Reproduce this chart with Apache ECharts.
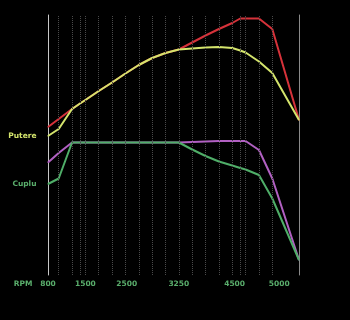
<!DOCTYPE html>
<html>
<head>
<meta charset="utf-8">
<script src="https://cdn.jsdelivr.net/npm/echarts@6/dist/echarts.min.js"></script>
<style>
  html, body { margin: 0; padding: 0; background: #000; }
  #chart { width: 350px; height: 320px; }
</style>
</head>
<body>
<div id="chart"></div>
<script>
// turatii (RPM) - fiecare punct are o linie verticala
const rpm = [800, 1000, 1250, 1400, 1500, 1750, 2000, 2250, 2500, 2750, 3000,
             3250, 3500, 3750, 4000, 4250, 4400, 4500, 4750, 5000, 5500];
const rpmLabels = [800, 1500, 2500, 3250, 4500, 5000];

// putere: stock (galben) si dupa tuning (rosu)
const putereStock = [139, 146, 166, 171.5, 175, 184, 192.5, 201.5, 210, 217, 222,
                     225.5, 226.5, 227.5, 228, 227, 224.5, 222.5, 213.5, 202, 155];
const putereTuning = [148, 156, 166, 171.5, 175, 184, 192.5, 201.5, 210, 217, 222,
                      225.5, 232.5, 239.5, 246, 252, 256.5, 256.5, 256.5, 246, 155];

// cuplu: stock (verde) si dupa tuning (mov)
const cupluStock = [91, 96.5, 132.5, 132.5, 132.5, 132.5, 132.5, 132.5, 132.5, 132.5, 132.5,
                    132.5, 125.5, 119, 113.5, 109.5, 107, 105.5, 100, 76.5, 15];
const cupluTuning = [112.5, 122, 132.5, 132.5, 132.5, 132.5, 132.5, 132.5, 132.5, 132.5, 132.5,
                     132.5, 133, 133.5, 134, 134, 134, 134, 125, 96.5, 15];

const verde = '#5aae6c';
const font = 'DejaVu Sans';

// etichetele de pe axa nu stau exact pe turatie in original
const labelShift = { 2500: -12, 4500: -11, 5000: 7 };
const rich = {};
Object.keys(labelShift).forEach(function(k) {
    const s = labelShift[k];
    rich['s' + k] = {
        color: verde, fontFamily: font, fontWeight: 'bold', fontSize: 7.5,
        padding: s < 0 ? [0, -2 * s, 0, 0] : [0, 0, 0, 2 * s]
    };
});

function pairs(vals) {
    return rpm.map(function(r, i) { return [r, vals[i]]; });
}

function curve(name, vals, color, z, label) {
    const s = {
        name: name,
        type: 'line',
        data: pairs(vals),
        z: z,
        symbol: 'circle',
        symbolSize: 1,
        showSymbol: true,
        itemStyle: { color: color },
        lineStyle: { color: color, width: 2 },
        animation: false,
        silent: true
    };
    if (label) {
        s.label = {
            show: true,
            position: 'left',
            distance: 11,
            color: label.color,
            fontFamily: font,
            fontWeight: 'bold',
            fontSize: 7.5,
            formatter: function(p) { return p.dataIndex === 0 ? label.text : ''; }
        };
    }
    return s;
}

const chart = echarts.init(document.getElementById('chart'));

chart.setOption({
    backgroundColor: '#000',
    animation: false,
    grid: { left: 48, right: 51, top: 15, bottom: 45 },
    xAxis: {
        type: 'value',
        min: 800,
        max: 5500,
        axisLine: { show: false },
        axisTick: { show: false },
        splitLine: { show: false },
        axisLabel: {
            customValues: rpmLabels,
            margin: 5,
            color: verde,
            fontFamily: font,
            fontWeight: 'bold',
            fontSize: 7.5,
            formatter: function(v) {
                return labelShift[v] !== undefined ? '{s' + v + '|' + v + '}' : String(v);
            },
            rich: rich
        }
    },
    yAxis: [{
        type: 'value',
        min: 0,
        max: 260,
        axisLine: { show: true, lineStyle: { color: '#c8c8c8', width: 1 } },
        axisTick: { show: false },
        axisLabel: { show: false },
        splitLine: { show: false }
    }, {
        type: 'value',
        position: 'right',
        min: 0,
        max: 260,
        axisLine: { show: true, lineStyle: { color: '#8a8a8a', width: 1 } },
        axisTick: { show: false },
        axisLabel: { show: false },
        splitLine: { show: false }
    }],
    graphic: [{
        type: 'text',
        x: 23,
        y: 284,
        style: {
            text: 'RPM',
            fill: verde,
            align: 'center',
            verticalAlign: 'middle',
            font: 'bold 7.5px "DejaVu Sans"'
        }
    }],
    series: [
        {
            name: 'grila',
            type: 'line',
            data: [],
            z: 1,
            silent: true,
            markLine: {
                silent: true,
                symbol: ['none', 'none'],
                label: { show: false },
                animation: false,
                lineStyle: { color: '#4a4a4a', type: 'dotted', width: 1 },
                data: rpm.slice(1, -1).map(function(r) { return { xAxis: r }; })
            }
        },
        curve('Putere tuning', putereTuning, '#d6323a', 2),
        curve('Cuplu tuning', cupluTuning, '#b160c2', 2),
        curve('Putere', putereStock, '#d4e46c', 3, { text: 'Putere', color: '#d4e46c' }),
        curve('Cuplu', cupluStock, '#4fae68', 3, { text: 'Cuplu', color: verde })
    ]
});
</script>
</body>
</html>
